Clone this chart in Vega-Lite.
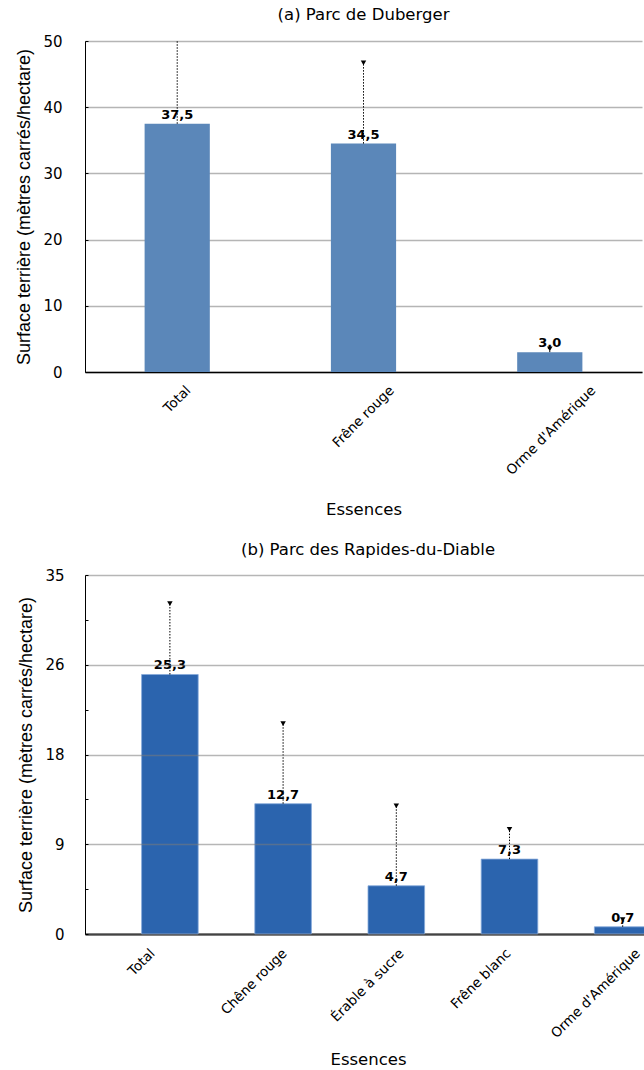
{
  "$schema": "https://vega.github.io/schema/vega-lite/v6.json",
  "padding": {"left": 15, "top": 6, "right": 0, "bottom": 0},
  "spacing": 22,
  "config": {
    "view": {"stroke": null},
    "locale": {"number": {"decimal": ",", "thousands": " ", "grouping": [3], "currency": ["", " €"]}},
    "font": "DejaVu Sans",
    "title": {"fontSize": 16.5, "fontWeight": "normal", "color": "#000000", "font": "DejaVu Sans"},
    "axis": {
      "domainColor": "#000000",
      "tickColor": "#000000",
      "labelColor": "#000000",
      "titleColor": "#000000",
      "titleFontWeight": "normal",
      "gridColor": "#b5b5b5",
      "gridWidth": 1.3
    }
  },
  "vconcat": [
    {
      "title": {"text": "(a) Parc de Duberger", "offset": 11},
      "width": 557,
      "height": 331,
      "data": {"values": [
        {"essence": "Total", "valeur": 37.5, "sup": 52},
        {"essence": "Frêne rouge", "valeur": 34.5, "sup": 46.7},
        {"essence": "Orme d'Amérique", "valeur": 3.0, "sup": 3.5}
      ]},
      "encoding": {
        "x": {
          "field": "essence", "type": "nominal", "sort": null,
          "scale": {"paddingInner": 0.65, "paddingOuter": 0.32},
          "axis": {
            "title": "Essences", "titleFontSize": 16.5, "titlePadding": 25,
            "labelAngle": -45, "labelFontSize": 13.5, "ticks": false,
            "labelAlign": "right", "labelBaseline": "top",
            "labelOffset": {"condition": [
              {"test": "datum.value == 'Total'", "value": 6.4},
              {"test": "indexof(datum.value, 'Frêne rouge') == 0", "value": 23.5},
              {"test": "indexof(datum.value, 'Orme') == 0", "value": 38.7}
            ], "value": 0},
            "domainWidth": 1.5, "labelPadding": 11
          }
        }
      },
      "layer": [
        {
          "mark": {"type": "bar", "color": "#5B87B9"},
          "encoding": {
            "y": {
              "field": "valeur", "type": "quantitative",
              "scale": {"domain": [0, 50]},
              "axis": {
                "title": "Surface terrière (mètres carrés/hectare)",
                "titleFont": "Liberation Sans", "titleFontSize": 18, "titlePadding": 9,
                "values": [0, 5, 10, 15, 20, 25, 30, 35, 40, 45, 50],
                "labelExpr": "datum.value % 10 == 0 ? datum.label : ''",
                "labelFontSize": 15, "labelPadding": 26, "tickSize": -3,
                "gridOpacity": {"condition": {"test": "datum.value % 10 != 0", "value": 0}, "value": 1}
              }
            }
          }
        },
        {
          "mark": {"type": "rule", "strokeDash": [1.5, 1.5], "color": "#000000", "strokeWidth": 1, "clip": true},
          "encoding": {
            "y": {"field": "valeur", "type": "quantitative"},
            "y2": {"field": "sup"}
          }
        },
        {
          "mark": {"type": "point", "shape": "triangle-down", "filled": true, "color": "#000000", "size": 30, "opacity": 1, "clip": true},
          "encoding": {"y": {"field": "sup", "type": "quantitative"}}
        },
        {
          "mark": {"type": "text", "fontWeight": "bold", "fontSize": 13, "baseline": "bottom", "dy": -2, "color": "#000000"},
          "encoding": {
            "y": {"field": "valeur", "type": "quantitative"},
            "text": {"field": "valeur", "type": "quantitative", "format": ".1f"}
          }
        }
      ]
    },
    {
      "title": {"text": "(b) Parc des Rapides-du-Diable", "offset": 10},
      "width": 566,
      "height": 359,
      "data": {"values": [
        {"essence": "Total", "valeur": 25.3, "sup": 32.2},
        {"essence": "Chêne rouge", "valeur": 12.7, "sup": 20.5},
        {"essence": "Érable à sucre", "valeur": 4.7, "sup": 12.5},
        {"essence": "Frêne blanc", "valeur": 7.3, "sup": 10.2},
        {"essence": "Orme d'Amérique", "valeur": 0.7, "sup": 1.4}
      ]},
      "encoding": {
        "x": {
          "field": "essence", "type": "nominal", "sort": null,
          "scale": {"paddingInner": 0, "paddingOuter": 0},
          "axis": {
            "title": "Essences", "titleFontSize": 16.5, "titlePadding": 12,
            "labelAngle": -45, "labelFontSize": 13.5, "ticks": false,
            "labelAlign": "right", "labelBaseline": "top",
            "labelOffset": {"condition": [
              {"test": "datum.value == 'Total'", "value": 6.4},
              {"test": "indexof(datum.value, 'Chêne') == 0", "value": 25.1},
              {"test": "indexof(datum.value, 'rable') > 0", "value": 28.8},
              {"test": "indexof(datum.value, 'Frêne blanc') == 0", "value": 22.5},
              {"test": "indexof(datum.value, 'Orme') == 0", "value": 38.7}
            ], "value": 0},
            "domainWidth": 2, "labelPadding": 12
          }
        }
      },
      "layer": [
        {
          "mark": {"type": "bar", "color": "#2B64AE", "stroke": "#86a9da", "strokeWidth": 0.8, "width": {"band": 0.5}, "xOffset": 28.3},
          "encoding": {
            "y": {
              "field": "valeur", "type": "quantitative",
              "scale": {"domain": [0, 35]},
              "axis": {
                "title": "Surface terrière (mètres carrés/hectare)",
                "titleFont": "Liberation Sans", "titleFontSize": 18, "titlePadding": 9,
                "values": [0, 4.375, 8.75, 13.125, 17.5, 21.875, 26.25, 30.625, 35],
                "labelExpr": "abs(datum.value / 8.75 - round(datum.value / 8.75)) < 0.001 ? format(datum.value, '.0f') : ''",
                "labelFontSize": 15, "labelPadding": 24, "tickSize": -3,
                "zindex": 1,
                "gridColor": "#7a7a7a",
                "gridOpacity": {"condition": {"test": "abs(datum.value / 8.75 - round(datum.value / 8.75)) > 0.001", "value": 0}, "value": 0.55}
              }
            }
          }
        },
        {
          "mark": {"type": "rule", "strokeDash": [1.5, 1.5], "color": "#000000", "strokeWidth": 1, "clip": true, "xOffset": 28.3},
          "encoding": {
            "y": {"field": "valeur", "type": "quantitative"},
            "y2": {"field": "sup"}
          }
        },
        {
          "mark": {"type": "point", "shape": "triangle-down", "filled": true, "color": "#000000", "size": 30, "opacity": 1, "clip": true, "xOffset": 28.3},
          "encoding": {"y": {"field": "sup", "type": "quantitative"}}
        },
        {
          "mark": {"type": "text", "fontWeight": "bold", "fontSize": 13, "baseline": "bottom", "dy": -2, "color": "#000000", "xOffset": 28.3},
          "encoding": {
            "y": {"field": "valeur", "type": "quantitative"},
            "text": {"field": "valeur", "type": "quantitative", "format": ".1f"}
          }
        }
      ]
    }
  ]
}
